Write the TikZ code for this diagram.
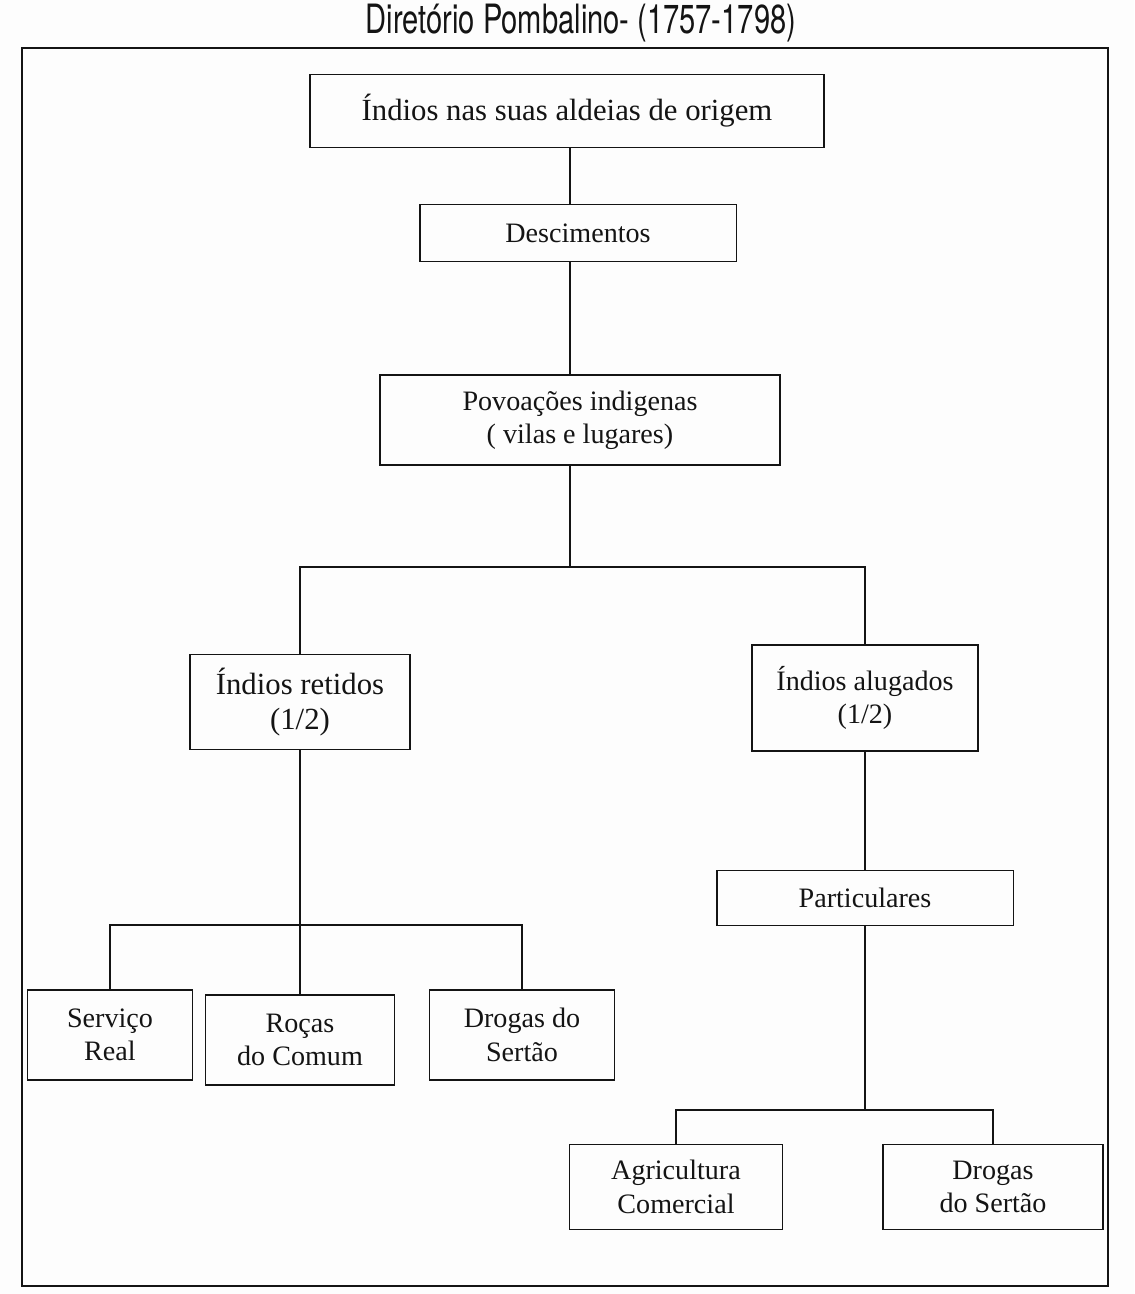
\documentclass[tikz,border=0pt]{standalone}
\usepackage{fontspec}
\setmainfont{Liberation Serif}
\newfontfamily\titlefont{TeX Gyre Heros}
\usepackage{xcolor}
\usepackage{tikz}
\definecolor{inkc}{HTML}{141414}
\definecolor{paperc}{HTML}{FDFDFD}

\begin{document}
\begin{tikzpicture}[x=0.02cm, y=-0.02cm,
    box/.style={draw=inkc, line width=1.1pt, align=center, inner sep=2pt,
      font=\fontsize{16}{19}\selectfont, text=inkc},
    bigbox/.style={box, font=\fontsize{17.5}{20}\selectfont},
    link/.style={inkc, line width=1.1pt}]
  \useasboundingbox[fill=paperc] (0,0) rectangle (1134,1294);
  \draw[link] (22,48) rectangle (1108,1286);
  \node[xscale=0.72, font=\titlefont\fontsize{23}{26}\selectfont, text=inkc] (title) at (581,23) {Diretório Pombalino- (1757-1798)};

  \node[bigbox, minimum width=10.3cm, minimum height=1.46cm] (aldeias) at (567,111) {Índios nas suas aldeias de origem};
  \node[box, minimum width=6.34cm, minimum height=1.14cm] (descim) at (578,233) {Descimentos};
  \node[box, minimum width=8cm, minimum height=1.8cm] (povoa) at (580,420) {Povoações indigenas\\( vilas e lugares)};
  \node[bigbox, minimum width=4.4cm, minimum height=1.9cm] (retidos) at (300,702) {Índios retidos\\(1/2)};
  \node[box, minimum width=4.52cm, minimum height=2.12cm] (alugados) at (865,698) {Índios alugados\\(1/2)};
  \node[box, minimum width=5.94cm, minimum height=1.1cm] (partic) at (865,898) {Particulares};
  \node[box, minimum width=3.3cm, minimum height=1.8cm] (servico) at (110,1035) {Serviço\\Real};
  \node[box, minimum width=3.78cm, minimum height=1.8cm] (rocas) at (300,1040) {Roças\\do Comum};
  \node[box, minimum width=3.7cm, minimum height=1.8cm] (drogasA) at (522,1035) {Drogas do\\Sertão};
  \node[box, minimum width=4.26cm, minimum height=1.7cm] (agric) at (676,1187) {Agricultura\\Comercial};
  \node[box, minimum width=4.4cm, minimum height=1.7cm] (drogasB) at (993,1187) {Drogas\\do Sertão};

  \coordinate (splitA) at (570,567);
  \coordinate (splitB) at (300,925);
  \coordinate (splitC) at (865,1110);

  \draw[link] (aldeias.south -| splitA) -- (descim.north -| splitA);
  \draw[link] (descim.south -| splitA) -- (povoa.north -| splitA);
  \draw[link] (povoa.south -| splitA) -- (splitA);
  \draw[link] (retidos.north) |- (splitA) -| (alugados.north);
  \draw[link] (retidos.south) -- (splitB);
  \draw[link] (servico.north) |- (splitB) -| (drogasA.north);
  \draw[link] (splitB) -- (rocas.north);
  \draw[link] (alugados.south) -- (partic.north);
  \draw[link] (partic.south) -- (splitC);
  \draw[link] (agric.north) |- (splitC) -| (drogasB.north);
\end{tikzpicture}
\end{document}
